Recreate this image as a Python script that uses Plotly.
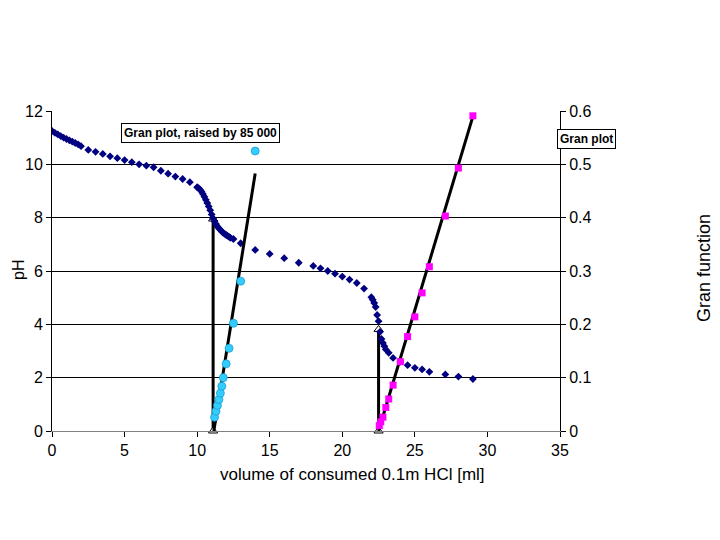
import plotly.graph_objects as go

# pH titration curve
ph_volume = [0.0, 0.2, 0.4, 0.6, 0.8, 1.0, 1.2, 1.4, 1.6, 1.8, 2.0,
             2.5, 3.0, 3.5, 4.0, 4.5, 5.0, 5.5, 6.0, 6.5, 7.0, 7.5, 8.0, 8.5, 9.0, 9.5, 10.0,
             10.1, 10.2, 10.3, 10.4, 10.5, 10.6, 10.7, 10.8, 10.9, 11.0, 11.1, 11.2, 11.3,
             11.4, 11.5, 11.6, 11.7, 11.8, 11.9, 12.0, 12.1, 12.2, 12.3, 12.5,
             13.0, 14.0, 15.0, 16.0, 17.0, 18.0, 18.5, 19.0, 19.5, 20.0, 20.5, 21.0, 21.5,
             22.0, 22.1, 22.2, 22.3, 22.4, 22.5, 22.6, 22.7, 22.8, 22.9, 23.0, 23.2, 23.5,
             24.0, 24.5, 25.0, 25.5, 26.0, 27.1, 28.0, 29.0]
ph_values = [11.25, 11.18, 11.12, 11.06, 11.0, 10.95, 10.9, 10.85, 10.8, 10.75, 10.68,
             10.54, 10.47, 10.39, 10.3, 10.23, 10.16, 10.08, 10.0, 9.95, 9.89, 9.76, 9.65, 9.54, 9.45, 9.33, 9.14,
             9.11, 9.05, 8.98, 8.89, 8.78, 8.67, 8.55, 8.42, 8.28, 8.12, 7.97, 7.86, 7.76,
             7.67, 7.6, 7.54, 7.48, 7.43, 7.39, 7.35, 7.32, 7.28, 7.24, 7.2,
             7.04, 6.79, 6.64, 6.48, 6.31, 6.19, 6.1, 6.0, 5.9, 5.79, 5.68, 5.55, 5.34,
             5.02, 4.92, 4.8, 4.65, 4.35, 4.12, 3.72, 3.45, 3.3, 3.18, 3.06, 2.93, 2.74,
             2.6, 2.47, 2.37, 2.31, 2.22, 2.12, 2.04, 1.95]

# Gran plot 1 (raised by 85 000)
gran1_volume = [11.2, 11.3, 11.4, 11.5, 11.6, 11.7, 11.8, 12.0, 12.2, 12.5, 13.0, 14.0]
gran1_values = [0.026, 0.037, 0.048, 0.059, 0.071, 0.084, 0.1, 0.126, 0.155, 0.202, 0.281, 0.525]

# Gran plot 2
gran2_volume = [22.55, 22.65, 22.8, 23.0, 23.2, 23.5, 24.0, 24.5, 25.0, 25.5, 26.0, 27.1, 28.0, 29.0]
gran2_values = [0.01, 0.017, 0.026, 0.044, 0.06, 0.086, 0.13, 0.177, 0.214, 0.259, 0.308, 0.403, 0.493, 0.591]

# Linear fits of the Gran functions
trend1_volume = [11.15, 14.0]
trend1_values = [0.0, 0.483]
trend2_volume = [22.5, 29.0]
trend2_values = [0.0, 0.59]

# Equivalence points (vertical markers, pH axis)
eq1_volume = [11.1, 11.1]
eq1_ph = [0.0, 7.95]
eq2_volume = [22.5, 22.5]
eq2_ph = [0.0, 3.81]

x_ticks = [0, 5, 10, 15, 20, 25, 30, 35]
y_ticks = [0, 2, 4, 6, 8, 10, 12]
y2_ticks = [0, 0.1, 0.2, 0.3, 0.4, 0.5, 0.6]
y2_labels = ["0", "0.1", "0.2", "0.3", "0.4", "0.5", "0.6"]

font = "Liberation Sans, Arial, sans-serif"

fig = go.Figure()

# vertical equivalence lines
for vx, vy in [(eq1_volume, eq1_ph), (eq2_volume, eq2_ph)]:
    fig.add_trace(go.Scatter(
        x=vx, y=vy, mode="lines+markers",
        line=dict(color="black", width=3),
        marker=dict(symbol="triangle-up", size=8, color="white",
                    line=dict(color="black", width=1)),
        cliponaxis=False, showlegend=False, yaxis="y"))

# trend lines on Gran axis
for tx, ty in [(trend1_volume, trend1_values), (trend2_volume, trend2_values)]:
    fig.add_trace(go.Scatter(
        x=tx, y=ty, mode="lines", line=dict(color="black", width=3),
        showlegend=False, yaxis="y2"))

fig.add_trace(go.Scatter(
    x=ph_volume, y=ph_values, mode="markers",
    marker=dict(symbol="diamond", size=6, color="#000080"),
    showlegend=False, yaxis="y"))

fig.add_trace(go.Scatter(
    x=gran1_volume, y=gran1_values, mode="markers",
    marker=dict(symbol="circle", size=8, color="#33CCFF",
                line=dict(color="#1a9fd0", width=0.8)),
    showlegend=False, yaxis="y2"))

fig.add_trace(go.Scatter(
    x=gran2_volume, y=gran2_values, mode="markers",
    marker=dict(symbol="square", size=7, color="#FF00FF"),
    showlegend=False, yaxis="y2"))

# page body offset of 8px
OFF = 8
W, H = 720, 540
L, R, T, B = 52 - OFF, 720 - 560 + OFF, 111 - OFF, 540 - 431 + OFF
pw, ph_ = W - L - R, H - T - B


def to_paper(sx, sy):
    fx, fy = sx - OFF, sy - OFF
    return (fx - L) / pw, (H - B - fy) / ph_


ann_specs = [
    ("pH", 18, 270, -90, 16, None),
    ("Gran function", 704, 268, -90, 18, None),
    ("volume of consumed 0.1m HCl [ml]", 352, 474, 0, 17, None),
    ("<b>Gran plot, raised by 85 000</b>", 200, 133, 0, 12, "box"),
    ("<b>Gran plot</b>", 586, 139, 0, 12, "box"),
]
annotations = []
for text, sx, sy, ang, size, box in ann_specs:
    px, py = to_paper(sx, sy)
    a = dict(text=text, x=px, y=py, xref="paper", yref="paper", showarrow=False,
             textangle=ang, xanchor="center", yanchor="middle", font=dict(size=size))
    if box:
        a.update(bordercolor="black", borderwidth=1, borderpad=2, bgcolor="white")
    annotations.append(a)

fig.update_layout(
    width=W, height=H,
    margin=dict(l=L, r=R, t=T, b=B),
    paper_bgcolor="white", plot_bgcolor="white",
    font=dict(family=font, size=16, color="black"),
    xaxis=dict(range=[0, 35], tickvals=x_ticks, showgrid=False, zeroline=False,
               showline=True, linecolor="#808080", linewidth=1,
               ticks="outside", ticklen=5, tickcolor="black"),
    yaxis=dict(range=[0, 12], tickvals=y_ticks, showgrid=True, gridcolor="black", gridwidth=1,
               zeroline=False, showline=True, linecolor="black", linewidth=1,
               ticks="outside", ticklen=5, tickcolor="black"),
    yaxis2=dict(range=[0, 0.6], tickvals=y2_ticks, ticktext=y2_labels, overlaying="y",
                side="right", showgrid=False, zeroline=False, showline=True,
                linecolor="black", linewidth=1, ticks="outside", ticklen=5, tickcolor="black"),
    annotations=annotations,
)

fig.write_html("out.html")
